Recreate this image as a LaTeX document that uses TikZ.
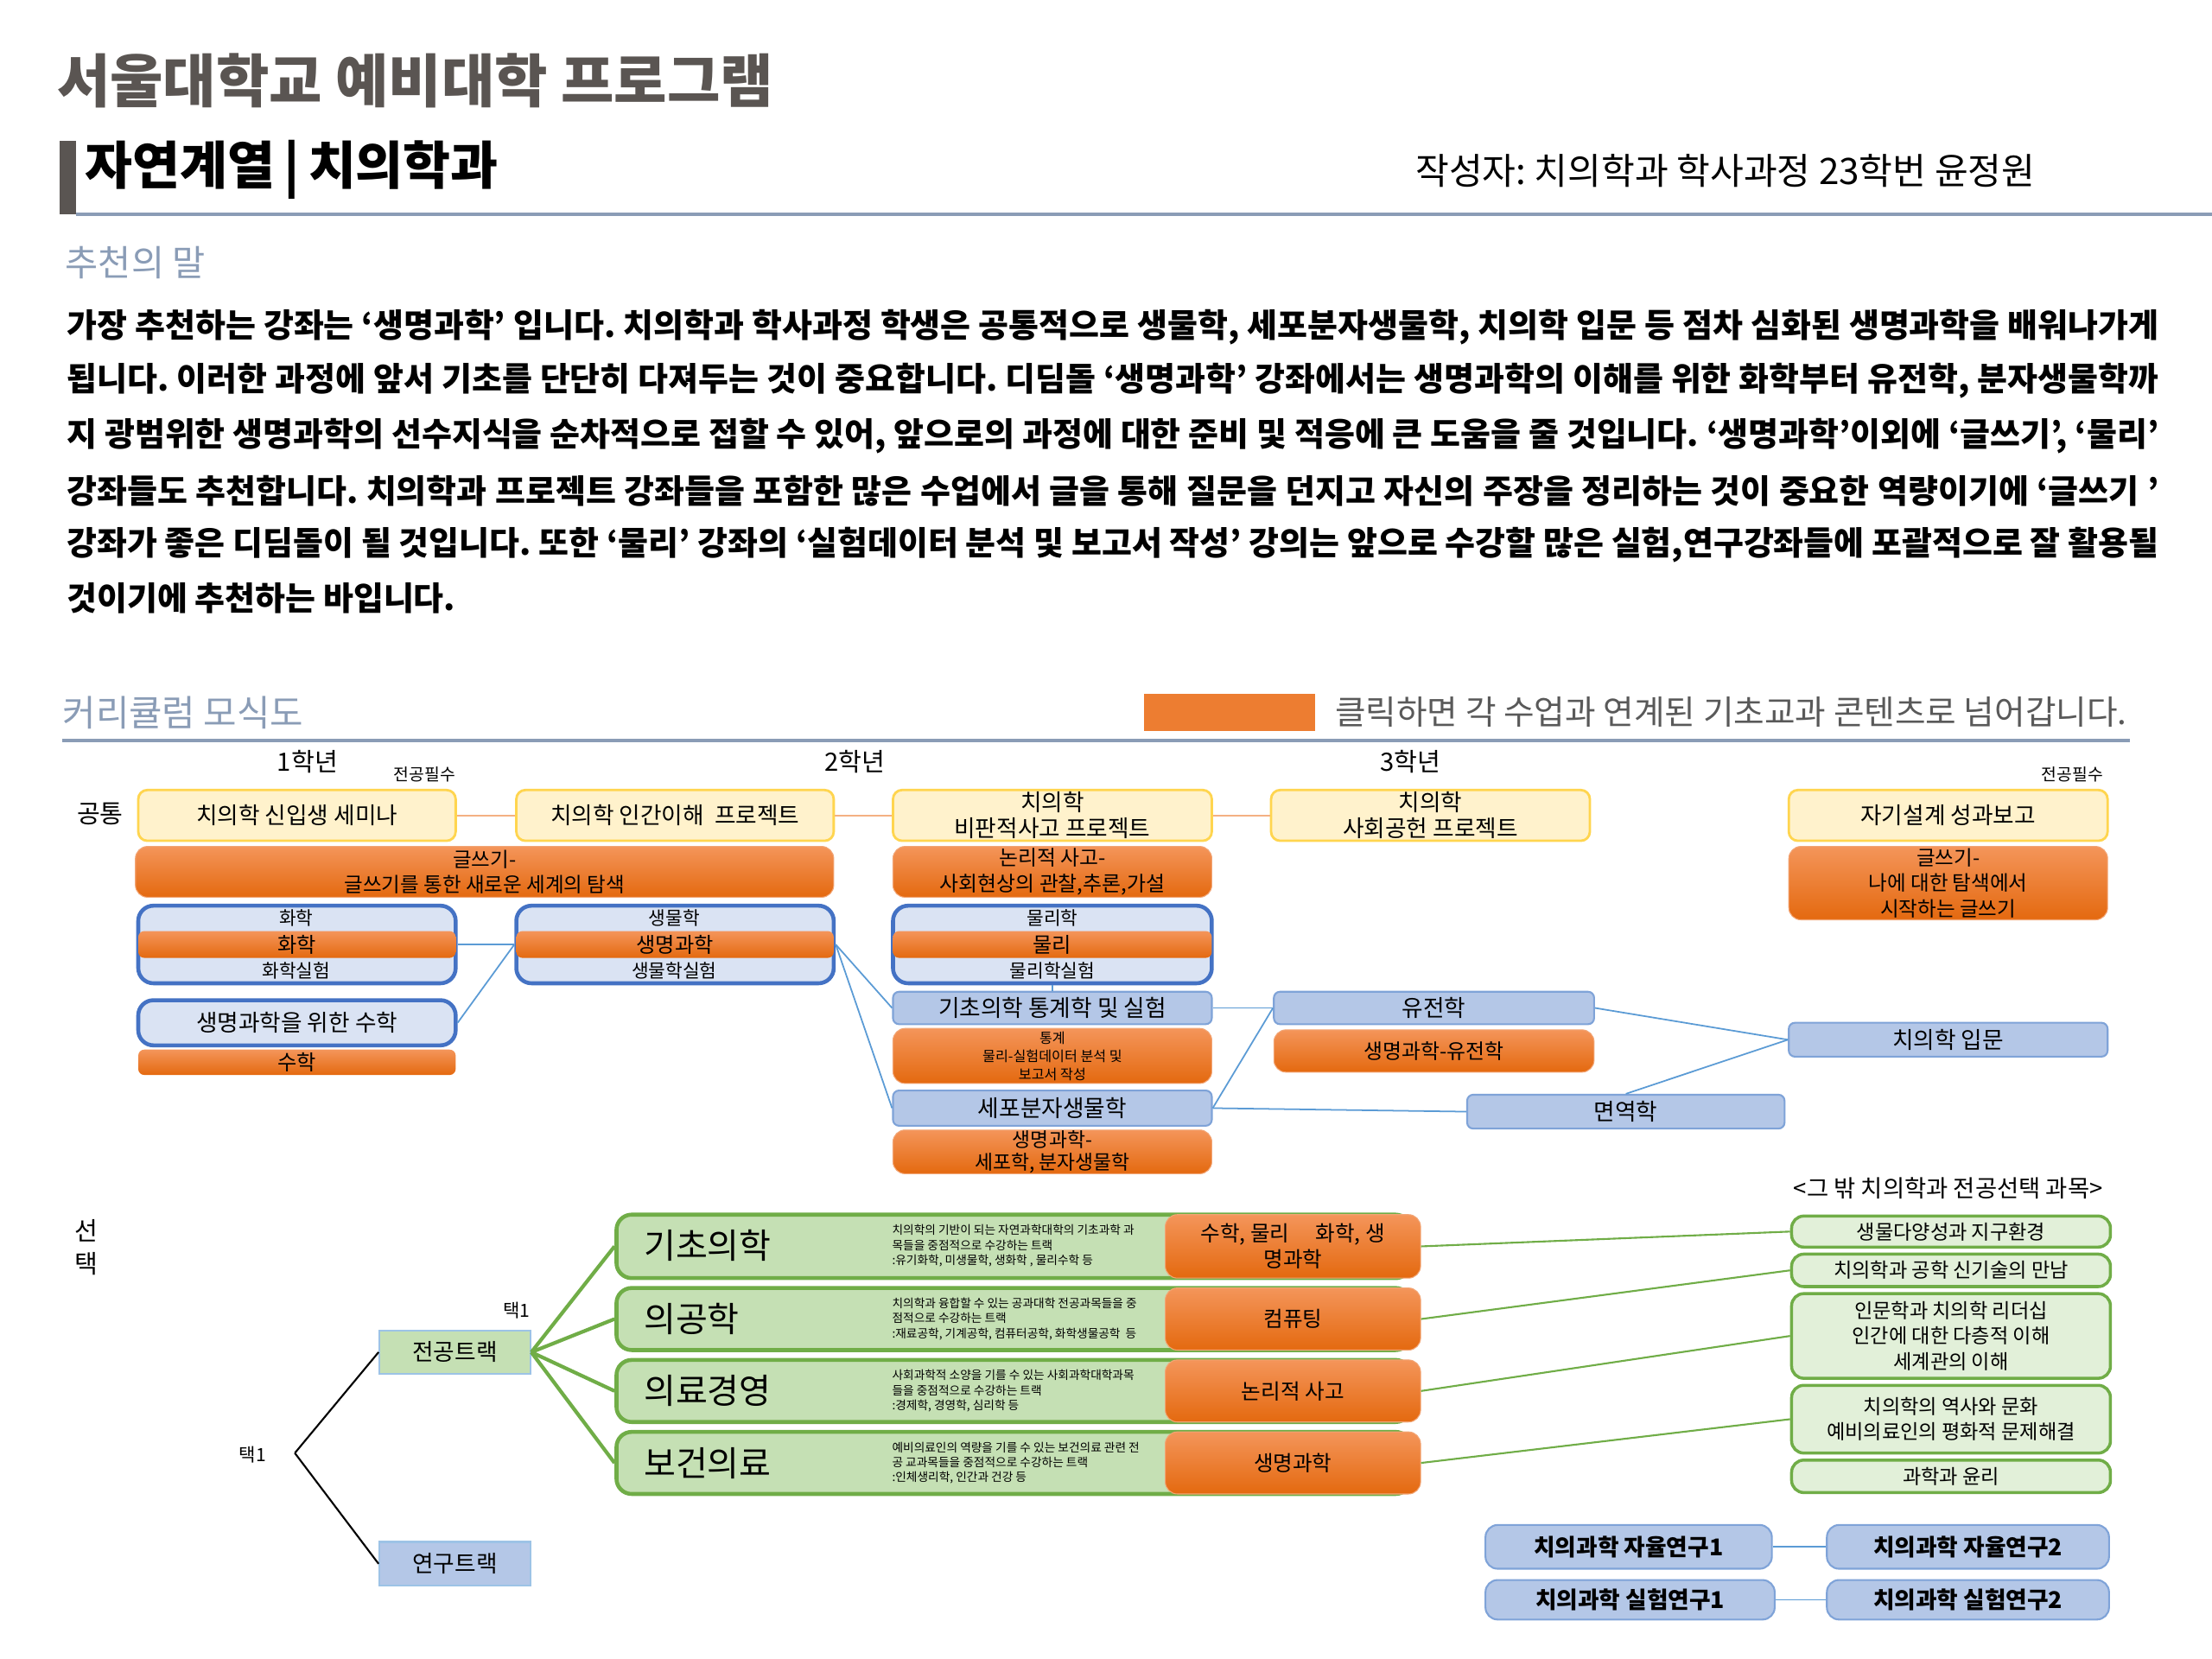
\documentclass[tikz,border=0pt]{standalone}
\usepackage{fontspec}
\setmainfont{Noto Sans CJK KR}
\usetikzlibrary{calc}
\frenchspacing

\definecolor{titlegray}{RGB}{90,85,82}
\definecolor{steel}{RGB}{138,156,182}
\definecolor{legendgray}{RGB}{89,89,89}
\definecolor{yelfill}{HTML}{FFF2CC}
\definecolor{yelline}{HTML}{FFD54F}
\definecolor{orTop}{HTML}{F4955A}
\definecolor{orBot}{HTML}{E4690F}
\definecolor{orEdge}{HTML}{F2A575}
\definecolor{orSolid}{HTML}{ED7D31}
\definecolor{compfill}{HTML}{DAE3F3}
\definecolor{compline}{HTML}{4472C4}
\definecolor{blufill}{HTML}{B4C7E7}
\definecolor{bluline}{HTML}{7FA3D8}
\definecolor{linkblue}{HTML}{5B9BD5}
\definecolor{linkor}{HTML}{F4B183}
\definecolor{grn}{HTML}{70AD47}
\definecolor{grnfill}{HTML}{C5E0B4}
\definecolor{elecfill}{HTML}{E2F0D9}
\definecolor{trkline}{HTML}{9DC3E6}

\def\pxu{0.016327cm}
\newcommand\fsz[2]{\fontsize{#1}{#2}\selectfont}
\def\crsbox[#1](#2)(#3,#4,#5,#6)#7{\node[#1, minimum width={(#5-#3)*\pxu}, minimum height={(#6-#4)*\pxu}] (#2) at ({(#3+#5)/2},{(#4+#6)/2}) {#7};}
\def\parline(#1)#2{\node[anchor=west, font=\fsz{10.8pt}{13pt}\bfseries] (#1) at (47,#2)}

\begin{document}
\begin{tikzpicture}[x=\pxu, y=-\pxu,
	every node/.style={inner sep=0pt},
	yelbox/.style={draw=yelline, fill=yelfill, line width=0.8pt, rounded corners=3pt, align=center, font=\fsz{7.6pt}{8.4pt}},
	orbox/.style={top color=orTop, bottom color=orBot, draw=orEdge, line width=0.3pt, rounded corners=4pt, align=center},
	compbox/.style={draw=compline, fill=compfill, line width=1.3pt, rounded corners=5pt},
	band/.style={top color=orTop, bottom color=orBot, rounded corners=2pt, align=center, font=\fsz{6.9pt}{7pt}},
	bluebox/.style={draw=bluline, fill=blufill, line width=0.6pt, rounded corners=2pt, align=center, font=\fsz{7.6pt}{8.4pt}},
	link/.style={draw=linkblue, line width=0.5pt},
	yellink/.style={draw=linkor, line width=0.6pt},
	trackbox/.style={draw=grn, fill=grnfill, line width=1.3pt, rounded corners=5pt},
	elecbox/.style={draw=grn, fill=elecfill, line width=1pt, rounded corners=4pt, align=center, font=\fsz{6.6pt}{8.4pt}},
	grnlink/.style={draw=grn, line width=0.6pt},
	grnthick/.style={draw=grn, line width=1.2pt}]
			%%%%% START %%%%%
			
			\fill[white] (0,0) rectangle (1568,1176);
			\useasboundingbox (0,0) rectangle (1568,1176);
			
			% header
			\node[anchor=west, text=titlegray, font=\fsz{19pt}{22pt}\bfseries] (title) at (40,57) {서울대학교 예비대학 프로그램};
			\fill[titlegray] (42,100) rectangle (54,152);
			\node[anchor=west, font=\fsz{17pt}{20pt}\bfseries] (dept) at (60,120) {자연계열\,|\,치의학과};
			\node[anchor=west, font=\fsz{12pt}{14pt}] (author) at (1003,121) {작성자: 치의학과 학사과정 23학번 윤정원};
			\draw[steel, line width=1.1pt] (54,152) -- (1568,152);
			\node[anchor=west, text=steel, font=\fsz{11.8pt}{14pt}] (rec) at (46,186) {추천의 말};
			
			\parline(p1){232} {\makebox[24.21cm][s]{가장 추천하는 강좌는 ‘생명과학’ 입니다. 치의학과 학사과정 학생은 공통적으로 생물학, 세포분자생물학, 치의학 입문 등 점차 심화된 생명과학을 배워나가게}};
			\parline(p2){270} {\makebox[24.21cm][s]{됩니다. 이러한 과정에 앞서 기초를 단단히 다져두는 것이 중요합니다. 디딤돌 ‘생명과학’ 강좌에서는 생명과학의 이해를 위한 화학부터 유전학, 분자생물학까}};
			\parline(p3){309} {\makebox[24.21cm][s]{지 광범위한 생명과학의 선수지식을 순차적으로 접할 수 있어, 앞으로의 과정에 대한 준비 및 적응에 큰 도움을 줄 것입니다. ‘생명과학’이외에 ‘글쓰기’, ‘물리’}};
			\parline(p4){348} {\makebox[24.21cm][s]{강좌들도 추천합니다. 치의학과 프로젝트 강좌들을 포함한 많은 수업에서 글을 통해 질문을 던지고 자신의 주장을 정리하는 것이 중요한 역량이기에 ‘글쓰기 ’}};
			\parline(p5){386} {\makebox[24.21cm][s]{강좌가 좋은 디딤돌이 될 것입니다. 또한 ‘물리’ 강좌의 ‘실험데이터 분석 및 보고서 작성’ 강의는 앞으로 수강할 많은 실험,연구강좌들에 포괄적으로 잘 활용될}};
			\parline(p6){424} {것이기에 추천하는 바입니다.};
			
			% curriculum header
			\node[anchor=west, text=steel, font=\fsz{11.9pt}{14pt}] (curtitle) at (44,505) {커리큘럼 모식도};
			\crsbox[fill=orSolid](legend)(811,492,932,518){};
			\node[anchor=west, text=legendgray, font=\fsz{11pt}{13pt}] (legendtext) at (946,505) {클릭하면 각 수업과 연계된 기초교과 콘텐츠로 넘어갑니다.};
			\draw[steel, line width=1.1pt] (44,525) -- (1510,525);
			
			\node[font=\fsz{8.3pt}{10pt}] (year1) at (218,540) {1학년};
			\node[font=\fsz{8.3pt}{10pt}] (year2) at (606,540) {2학년};
			\node[font=\fsz{8.3pt}{10pt}] (year3) at (1000,540) {3학년};
			\node[font=\fsz{5.5pt}{6pt}] (req1) at (301,549) {전공필수};
			\node[font=\fsz{5.5pt}{6pt}] (req2) at (1469,549) {전공필수};
			\node[font=\fsz{8.3pt}{10pt}] (common) at (71,577) {공통};
			
			% common projects
			\crsbox[yelbox](seminar)(98,560,323,596){치의학 신입생 세미나};
			\crsbox[yelbox](human)(366,560,591,596){치의학 인간이해\ \ 프로젝트};
			\crsbox[yelbox](critical)(633,560,859,596){치의학\\비판적사고 프로젝트};
			\crsbox[yelbox](social)(901,560,1127,596){치의학\\사회공헌 프로젝트};
			\crsbox[yelbox](design)(1268,560,1494,596){자기설계 성과보고};
			\crsbox[orbox, font=\fsz{6.7pt}{8.4pt}](write1)(96,600,591,636){글쓰기-\\글쓰기를 통한 새로운 세계의 탐색};
			\crsbox[orbox, font=\fsz{6.8pt}{8.4pt}](logic)(633,600,859,636){논리적 사고-\\사회현상의 관찰,추론,가설};
			\crsbox[orbox, font=\fsz{6.7pt}{8.4pt}](write2)(1268,600,1494,652){글쓰기-\\나에 대한 탐색에서\\시작하는 글쓰기};
			
			% science blocks
			\crsbox[compbox](chem)(98,642,323,697){};
			\crsbox[band](chemband)(98,660,323,679){화학};
			\node[font=\fsz{6.1pt}{6pt}] (chemtop) at (210,651) {화학};
			\node[font=\fsz{6.1pt}{6pt}] (chembot) at (210,688) {화학실험};
			\crsbox[compbox](bio)(366,642,591,697){};
			\crsbox[band](bioband)(366,660,591,679){생명과학};
			\node[font=\fsz{6.1pt}{6pt}] (biotop) at (478,651) {생물학};
			\node[font=\fsz{6.1pt}{6pt}] (biobot) at (478,688) {생물학실험};
			\crsbox[compbox](phys)(633,642,859,697){};
			\crsbox[band](physband)(633,660,859,679){물리};
			\node[font=\fsz{6.1pt}{6pt}] (phystop) at (746,651) {물리학};
			\node[font=\fsz{6.1pt}{6pt}] (physbot) at (746,688) {물리학실험};
			
			\crsbox[compbox, align=center, font=\fsz{7.6pt}{8.4pt}](math)(98,709,323,741){생명과학을 위한 수학};
			\crsbox[band, rounded corners=2pt](mathor)(98,744,323,762){수학};
			
			\crsbox[bluebox](stat)(633,703,859,726){기초의학 통계학 및 실험};
			\crsbox[orbox, font=\fsz{4.6pt}{6pt}](stator)(633,729,859,768){통계\\물리-실험데이터 분석 및\\보고서 작성};
			\crsbox[bluebox](cell)(633,773,859,798){세포분자생물학};
			\crsbox[orbox, font=\fsz{6.5pt}{7.4pt}](cellor)(633,801,859,832){생명과학-\\세포학, 분자생물학};
			\crsbox[bluebox](gen)(903,703,1130,726){유전학};
			\crsbox[orbox, font=\fsz{6.8pt}{7.4pt}](genor)(903,730,1130,760){생명과학-유전학};
			\crsbox[bluebox](imm)(1040,776,1265,800){면역학};
			\crsbox[bluebox](intro)(1268,725,1494,749){치의학 입문};
			
			\draw[yellink] (seminar.east) -- (human.west);
			\draw[yellink] (human.east) -- (critical.west);
			\draw[yellink] (critical.east) -- (social.west);
			\draw[link] (chem.east) -- (bio.west);
			\draw[link] (math.east) -- (bio.west);
			\draw[link] (bio.east) -- (stat.west);
			\draw[link] (bio.east) -- (cell.west);
			\draw[link] (phys.south) -- (stat.north);
			\draw[link] (stat.east) -- (gen.west);
			\draw[link] (cell.east) -- (gen.west);
			\draw[link] (cell.east) -- (imm.west);
			\draw[link] (gen.east) -- (intro.west);
			\draw[link] (imm.north) -- (intro.west);
			
			% elective tracks
			\node[align=center, font=\fsz{8.3pt}{10.7pt}] (choice) at (61,884) {선\\택};
			\node[font=\fsz{6pt}{6pt}] (pick1) at (366,929) {택1};
			\node[font=\fsz{6pt}{6pt}] (pick2) at (179,1031) {택1};
			\coordinate (fork) at (209,1030);
			\crsbox[draw=trkline, fill=grnfill, line width=0.6pt, font=\fsz{7.6pt}{8pt}](major)(269,943,376,974){전공트랙};
			\crsbox[draw=trkline, fill=blufill, line width=0.6pt, font=\fsz{7.6pt}{8pt}](research)(269,1093,376,1124){연구트랙};
			\draw[line width=0.6pt] (fork) -- (major.west);
			\draw[line width=0.6pt] (fork) -- (research.west);
			
			\crsbox[trackbox](basic)(437,861,1000,906){};
			\node[anchor=west, font=\fsz{11.4pt}{12pt}] (basiclbl) at (456,883) {기초의학};
			\node[anchor=west, align=left, font=\fsz{3.9pt}{4.9pt}] (basicdesc) at (632,883) {치의학의 기반이 되는 자연과학대학의 기초과학 과\\목들을 중점적으로 수강하는 트랙\\:유기화학, 미생물학, 생화학 , 물리수학 등};
			\crsbox[orbox, font=\fsz{7pt}{8.4pt}](basicor)(826,861,1007,906){수학, 물리\quad\ 화학, 생\\명과학};
			
			\crsbox[trackbox](eng)(437,913,1000,957){};
			\node[anchor=west, font=\fsz{11.4pt}{12pt}] (englbl) at (456,935) {의공학};
			\node[anchor=west, align=left, font=\fsz{3.9pt}{4.9pt}] (engdesc) at (632,935) {치의학과 융합할 수 있는 공과대학 전공과목들을 중\\점적으로 수강하는 트랙\\:재료공학, 기계공학, 컴퓨터공학, 화학생물공학\ \ 등};
			\crsbox[orbox, font=\fsz{7pt}{8.4pt}](engor)(826,913,1007,957){컴퓨팅};
			
			\crsbox[trackbox](mgmt)(437,964,1000,1008){};
			\node[anchor=west, font=\fsz{11.4pt}{12pt}] (mgmtlbl) at (456,986) {의료경영};
			\node[anchor=west, align=left, font=\fsz{3.9pt}{4.9pt}] (mgmtdesc) at (632,986) {사회과학적 소양을 기를 수 있는 사회과학대학과목\\들을 중점적으로 수강하는 트랙\\:경제학, 경영학, 심리학 등};
			\crsbox[orbox, font=\fsz{7pt}{8.4pt}](mgmtor)(826,964,1007,1008){논리적 사고};
			
			\crsbox[trackbox](health)(437,1015,1000,1059){};
			\node[anchor=west, font=\fsz{11.4pt}{12pt}] (healthlbl) at (456,1037) {보건의료};
			\node[anchor=west, align=left, font=\fsz{3.9pt}{4.9pt}] (healthdesc) at (632,1037) {예비의료인의 역량을 기를 수 있는 보건의료 관련 전\\공 교과목들을 중점적으로 수강하는 트랙\\:인체생리학, 인간과 건강 등};
			\crsbox[orbox, font=\fsz{7pt}{8.4pt}](healthor)(826,1015,1007,1059){생명과학};
			
			\draw[grnthick] (major.east) -- (basic.west);
			\draw[grnthick] (major.east) -- (eng.west);
			\draw[grnthick] (major.east) -- (mgmt.west);
			\draw[grnthick] (major.east) -- (health.west);
			
			% other electives
			\node[font=\fsz{7.8pt}{8pt}] (others) at (1381,842) {<그 밖 치의학과 전공선택 과목>};
			\crsbox[elecbox](bioenv)(1270,862,1496,884){생물다양성과 지구환경};
			\crsbox[elecbox](tech)(1270,889,1496,912){치의학과 공학 신기술의 만남};
			\crsbox[elecbox](lead)(1270,917,1496,977){인문학과 치의학 리더십\\인간에 대한 다층적 이해\\세계관의 이해};
			\crsbox[elecbox](hist)(1270,982,1496,1030){치의학의 역사와 문화\\예비의료인의 평화적 문제해결};
			\crsbox[elecbox](ethic)(1270,1035,1496,1058){과학과 윤리};
			
			\draw[grnlink] (basicor.east) -- (bioenv.west);
			\draw[grnlink] (engor.east) -- (tech.west);
			\draw[grnlink] (mgmtor.east) -- (lead.west);
			\draw[grnlink] (healthor.east) -- (hist.west);
			
			% research
			\crsbox[bluebox, rounded corners=4pt, font=\fsz{7.6pt}{8pt}\bfseries](auto1)(1053,1081,1256,1112){치의과학 자율연구1};
			\crsbox[bluebox, rounded corners=4pt, font=\fsz{7.6pt}{8pt}\bfseries](exp1)(1053,1120,1258,1148){치의과학 실험연구1};
			\crsbox[bluebox, rounded corners=4pt, font=\fsz{7.6pt}{8pt}\bfseries](auto2)(1295,1081,1495,1112){치의과학 자율연구2};
			\crsbox[bluebox, rounded corners=4pt, font=\fsz{7.6pt}{8pt}\bfseries](exp2)(1295,1120,1495,1148){치의과학 실험연구2};
			\draw[link] (auto1.east) -- (auto2.west);
			\draw[link] (exp1.east) -- (exp2.west);
			
			%%%%% END %%%%%
\end{tikzpicture}
\end{document}
